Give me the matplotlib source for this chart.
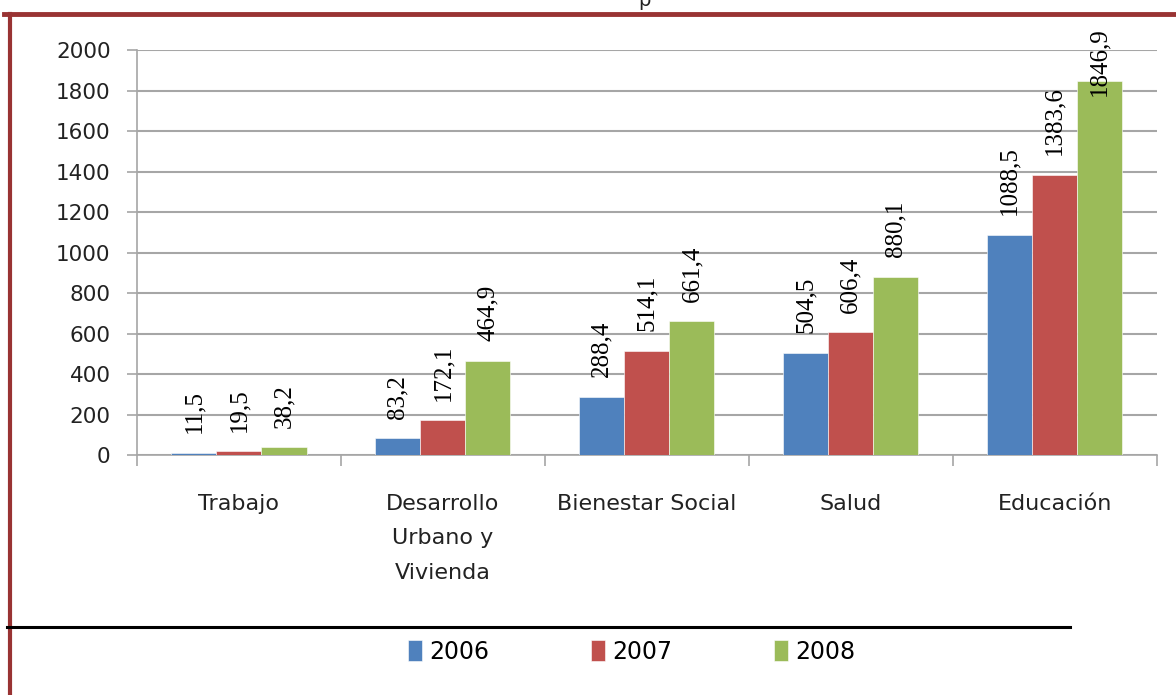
import numpy as np
import matplotlib
matplotlib.use("Agg")
import matplotlib.pyplot as plt
from matplotlib.lines import Line2D

# Data
categorias = ['Trabajo', 'Desarrollo\nUrbano y\nVivienda', 'Bienestar Social', 'Salud', 'Educación']
anios = ['2006', '2007', '2008']
v2006 = [11.5, 83.2, 288.4, 504.5, 1088.5]
v2007 = [19.5, 172.1, 514.1, 606.4, 1383.6]
v2008 = [38.2, 464.9, 661.4, 880.1, 1846.9]
yticks = [0, 200, 400, 600, 800, 1000, 1200, 1400, 1600, 1800, 2000]

colores = ['#4F81BD', '#C0504D', '#9BBB59']
grid_col = '#A6A6A6'
borde = '#993333'

fig = plt.figure(figsize=(11.76, 6.95), dpi=100)
ax = fig.add_axes([0.1165, 0.3453, 0.867, 0.5827])

x = np.arange(len(categorias))
ancho = 0.221
series = [v2006, v2007, v2008]
for i, vals in enumerate(series):
    pos = x + (i - 1) * ancho
    bars = ax.bar(pos, vals, width=ancho, color=colores[i], edgecolor='white',
                  linewidth=0.4, zorder=3, label=anios[i])
    for b, v in zip(bars, vals):
        etiqueta = ('%.1f' % v).replace('.', ',')
        # the tallest label is pushed down so it stays inside the page
        dy = 14 if v < 1800 else -11
        ax.annotate(etiqueta, (b.get_x() + b.get_width() / 2, v),
                    xytext=(0, dy), textcoords='offset points',
                    rotation=90, ha='center', va='bottom',
                    fontsize=18, family='Liberation Serif', color='black',
                    annotation_clip=False, zorder=4)

ax.set_xlim(-0.5, len(categorias) - 0.5)
ax.set_ylim(0, 2000)
ax.set_yticks(yticks)
ax.yaxis.grid(True, color=grid_col, linewidth=1.5, zorder=0)

ax.set_xticks(x)
ax.set_xticklabels(categorias, fontsize=16, linespacing=1.9, color='#222222')
ax.set_xticks(np.arange(len(categorias) + 1) - 0.5, minor=True)
ax.tick_params(axis='x', which='major', length=0, pad=28)
ax.tick_params(axis='x', which='minor', length=8, color=grid_col, width=1.2)
ax.tick_params(axis='y', length=7, color=grid_col, width=1.2, labelsize=15.5,
               labelcolor='#222222', pad=12)

for s in ['top', 'right']:
    ax.spines[s].set_visible(False)
ax.spines['left'].set_color(grid_col)
ax.spines['bottom'].set_color(grid_col)
ax.spines['left'].set_linewidth(1.2)
ax.spines['bottom'].set_linewidth(1.2)

# Legend
leg = ax.legend(loc='center', bbox_to_anchor=(0.537, 0.062), bbox_transform=fig.transFigure,
                ncol=3, frameon=False, fontsize=17, handlelength=0.6, handleheight=1.0,
                handletextpad=0.3, columnspacing=4.3)

# Page decorations: border and separator line
fig.add_artist(Line2D([0.003, 1.0], [1 - 13.5 / 695, 1 - 13.5 / 695], color=borde, lw=3.5))
fig.add_artist(Line2D([0.0085, 0.0085], [0.0, 1 - 13.5 / 695], color=borde, lw=3))
fig.add_artist(Line2D([0.006, 0.91], [1 - 627 / 695, 1 - 627 / 695], color='black', lw=2.2))
fig.text(0.548, 1.0, 'p', ha='center', va='center', fontsize=14, color='#222222')

fig.savefig('out.png', dpi=100)
